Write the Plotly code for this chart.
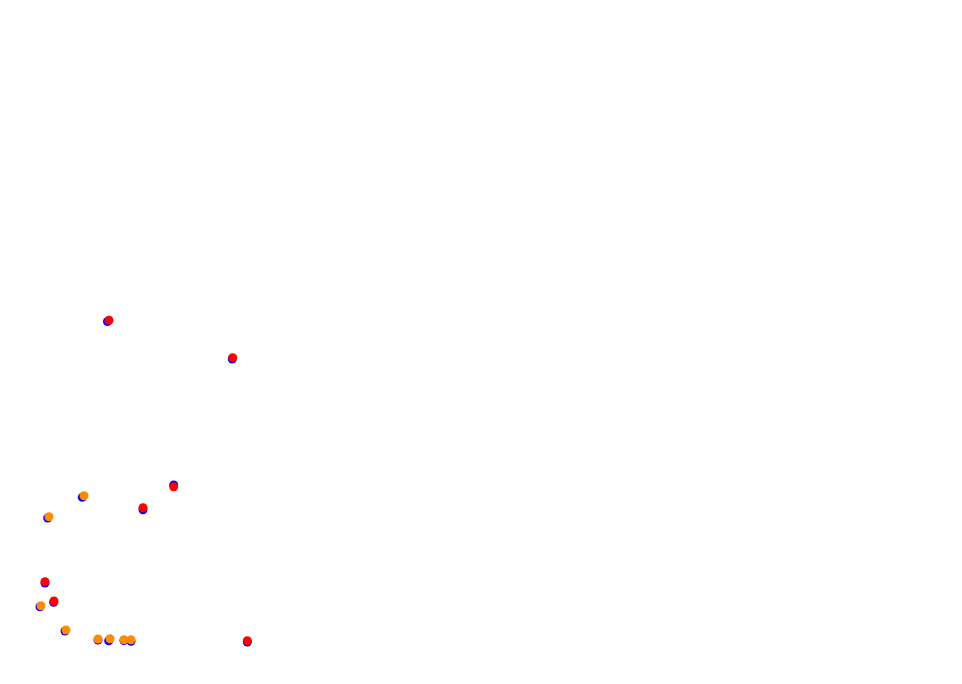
import plotly.graph_objects as go

# Base (blue) points, in chart units (x right, y up)
blue_x = [107.5, 232.3, 47.7, 82.3, 143.0, 173.7, 45.0, 40.0, 53.7, 65.0, 98.0, 108.7, 124.0, 131.0, 247.3]
blue_y = [362.5, 325.0, 166.0, 186.7, 174.3, 199.0, 101.0, 77.3, 81.7, 53.0, 44.0, 43.3, 43.5, 42.7, 42.0]

# Overlay points (red group)
red_x = [109.0, 232.7, 143.0, 173.7, 45.0, 54.0, 247.3]
red_y = [363.7, 326.3, 176.3, 197.3, 102.3, 83.0, 43.3]

# Overlay points (orange group)
orange_x = [49.0, 84.0, 41.0, 66.0, 98.0, 110.0, 124.0, 131.0]
orange_y = [167.3, 188.3, 78.3, 54.0, 45.0, 45.3, 44.3, 44.3]

fig = go.Figure()
fig.add_trace(go.Scatter(x=blue_x, y=blue_y, mode="markers",
                         marker=dict(color="#0000ff", size=9), showlegend=False))
fig.add_trace(go.Scatter(x=red_x, y=red_y, mode="markers",
                         marker=dict(color="#ff0000", size=9), showlegend=False))
fig.add_trace(go.Scatter(x=orange_x, y=orange_y, mode="markers",
                         marker=dict(color="#ff8c00", size=9), showlegend=False))

fig.update_layout(
    width=962, height=684,
    margin=dict(l=0, r=0, t=0, b=0),
    paper_bgcolor="white", plot_bgcolor="white",
    xaxis=dict(range=[8, 970], visible=False),
    yaxis=dict(range=[-8, 676], visible=False),
)
fig.write_html("out.html")
